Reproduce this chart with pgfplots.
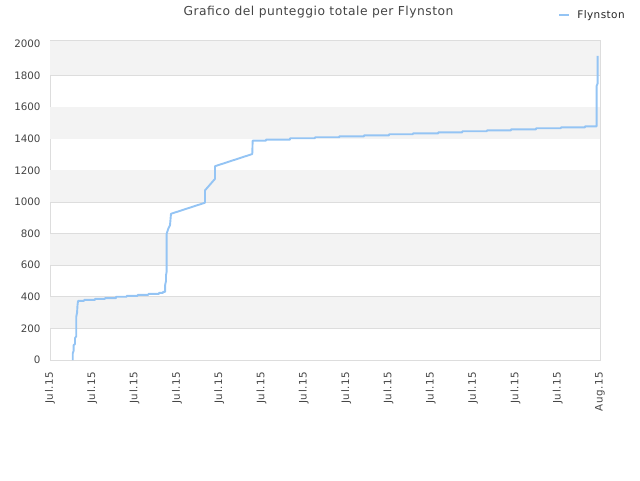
\documentclass[border=0pt]{standalone}
\usepackage{pgfplots}
\pgfplotsset{compat=1.18}
\usepackage{fontspec}
\setmainfont{DejaVu Sans}
\newfontfamily\spaced[LetterSpace=4]{DejaVu Sans}
\newfontfamily\wide[LetterSpace=7]{DejaVu Sans}
\definecolor{lineblue}{HTML}{94C4F4}
\definecolor{band}{HTML}{F3F3F3}
\definecolor{gridc}{HTML}{DDDDDD}
\definecolor{txt}{HTML}{444444}

\begin{document}
\begin{tikzpicture}
\useasboundingbox (0pt,0pt) rectangle (640pt,480pt);
\node[font=\spaced\fontsize{12.3}{14}\selectfont, text=txt] at (318.5pt,468pt) {Grafico del punteggio totale per Flynston};
\begin{axis}[
    at={(50pt,120pt)}, anchor=origin,
    scale only axis,
    width=550pt, height=319.3pt,
    xmin=0, xmax=13, ymin=0, ymax=2020,
    xtick={0,1,...,13},
    xticklabels={Jul.15,Jul.15,Jul.15,Jul.15,Jul.15,Jul.15,Jul.15,Jul.15,Jul.15,Jul.15,Jul.15,Jul.15,Jul.15,Aug.15},
    x tick label style={rotate=90, anchor=east, font=\wide\fontsize{10.3}{12}\selectfont, text=txt},
    y tick label style={font=\fontsize{10.3}{12}\selectfont, text=txt},
    ytick={0,200,...,2000},
    /pgf/number format/assume math mode=true,
    /pgf/number format/1000 sep={},
    major tick length=0pt,
    xtick pos=bottom, ytick pos=left,
    ymajorgrids,
    major grid style={gridc, line width=0.8pt},
    axis line style={gridc, line width=0.8pt},
    xticklabel shift=8pt,
    yticklabel shift=6pt,
    legend style={draw=none, fill=none, at={(0.924,1.081)}, anchor=west, inner sep=0pt,
        font=\spaced\fontsize{10.5}{12}\selectfont, text=black!85},
    legend image code/.code={\draw[#1, line width=1.9pt] (0pt,0pt) -- (10pt,0pt); \path (15pt,0pt);},
]
\fill[band] (axis cs:0,200) rectangle (axis cs:13,400);
\fill[band] (axis cs:0,600) rectangle (axis cs:13,800);
\fill[band] (axis cs:0,1000) rectangle (axis cs:13,1200);
\fill[band] (axis cs:0,1400) rectangle (axis cs:13,1600);
\fill[band] (axis cs:0,1800) rectangle (axis cs:13,2020);
\addplot[lineblue, line width=1.9pt, line join=round] coordinates {
 (0.537,0) (0.537,42) (0.56,60) (0.56,95) (0.59,100) (0.59,138) (0.62,150)
 (0.62,273) (0.64,300) (0.65,347) (0.66,368) (0.669,374)
 (0.804,374) (0.804,380) (1.064,380) (1.064,387) (1.300,387) (1.300,391)
 (1.560,391) (1.560,400) (1.813,400) (1.813,406) (2.073,406) (2.073,412)
 (2.323,412) (2.323,418) (2.576,418) (2.576,425) (2.671,425) (2.671,431)
 (2.72,431) (2.72,473) (2.742,500) (2.742,536) (2.758,560) (2.758,799)
 (2.796,831) (2.836,852) (2.860,925)
 (3.663,995) (3.663,1073) (3.900,1146) (3.900,1226) (4.781,1303) (4.79,1388)
 (5.105,1388) (5.105,1394) (5.672,1394) (5.672,1403) (6.263,1403) (6.263,1409)
 (6.838,1409) (6.838,1415) (7.421,1415) (7.421,1421) (8.012,1421) (8.012,1428)
 (8.580,1428) (8.580,1434) (9.177,1434) (9.177,1440) (9.745,1440) (9.745,1447)
 (10.328,1447) (10.328,1453) (10.896,1453) (10.896,1459) (11.486,1459) (11.486,1466)
 (12.077,1466) (12.077,1472) (12.645,1472) (12.645,1478) (12.921,1478)
 (12.921,1735) (12.945,1750) (12.945,1924)
};
\addlegendentry{Flynston}
\end{axis}
\end{tikzpicture}
\end{document}
